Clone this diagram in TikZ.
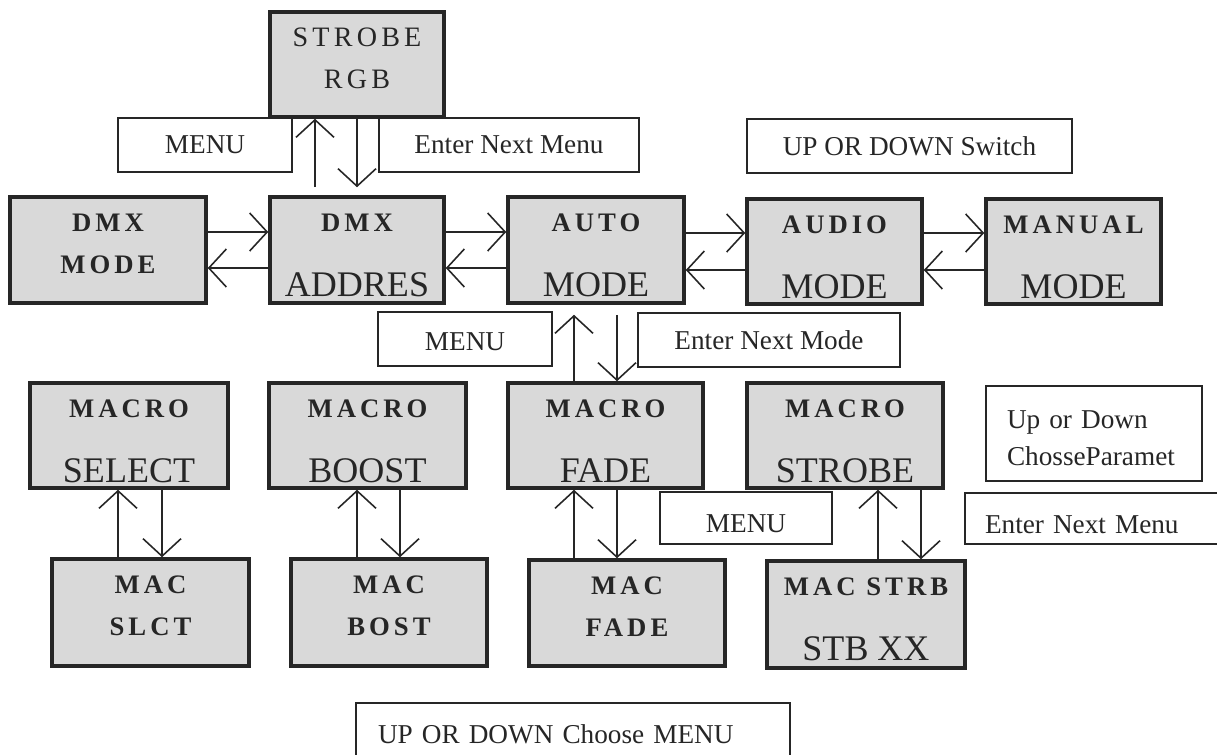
\documentclass[tikz,border=0pt]{standalone}
\usepackage{fontspec}
\setmainfont{Liberation Serif}
\newfontfamily\spacedfam[LetterSpace=15]{Liberation Serif}
\usetikzlibrary{arrows.meta}
\newlength\px
\setlength\px{0.02cm}
\colorlet{ink}{black!85}
\colorlet{cardfill}{black!15}
\newcommand\headfont{\spacedfam\bfseries\fontsize{15.2}{18}\selectfont}
\newcommand\thinhead{\spacedfam\fontsize{16}{19}\selectfont}
\newcommand\bigword{\fontsize{20.5}{24}\selectfont}
% box text: width, height, top line, skip, bottom line
\newcommand\cardtext[5]{%
  \parbox[c][#2\px][t]{#1\px}{\centering\offinterlineskip
    \rule{0pt}{34\px}{#3}\\\rule{0pt}{#4\px}{#5}}}
% pushes a label down in its box
\newcommand\lowstrut[1]{\rule{0pt}{#1\px}}
\tikzset{
  card/.style={
    draw=ink,
    line width=2pt,
    fill=cardfill,
    inner sep=0pt,
    text=ink
  },
  hint/.style={
    draw=ink,
    line width=0.7pt,
    fill=white,
    inner sep=0pt,
    text=ink,
    font=\fontsize{15.5}{21}\selectfont
  },
  arr/.style={
    draw=ink,
    line width=0.9pt,
    -{Straight Barb[length=3.5mm,width=7.6mm]}
  },
}
\begin{document}
\begin{tikzpicture}[x=0.02cm,y=-0.02cm]
\useasboundingbox (0,0) rectangle (1217,754);
\clip (0,0) rectangle (1217,754);
% top
\node[card] (strobergb) at (357,64.5) {\cardtext{174}{105}{\thinhead STROBE}{42}{\thinhead RGB}};
\node[hint, minimum width=174\px, minimum height=54\px] (menua) at (205,145) {MENU};
\node[hint, minimum width=260\px, minimum height=54\px] (nexta) at (509,145) {Enter Next Menu};
\node[hint, minimum width=325\px, minimum height=54\px] (switch) at (909.5,146) {UP OR DOWN Switch};
% mode row
\node[card] (dmxmode) at (108,250) {\cardtext{196}{106}{\headfont DMX}{42}{\headfont MODE}};
\node[card] (dmxaddr) at (357,250) {\cardtext{174}{106}{\headfont DMX}{65}{\bigword ADDRES}};
\node[card] (automode) at (596,250) {\cardtext{176}{106}{\headfont AUTO}{65}{\bigword MODE}};
\node[card] (audiomode) at (834.5,251.5) {\cardtext{175}{105}{\headfont AUDIO}{65}{\bigword MODE}};
\node[card] (manualmode) at (1073.5,251.5) {\cardtext{175}{105}{\headfont MANUAL}{65}{\bigword MODE}};
\node[hint, minimum width=174\px, minimum height=54\px] (menub) at (465,339) {\lowstrut{24}MENU};
\node[hint, minimum width=262\px, minimum height=54\px] (nextmode) at (769,340) {Enter Next Mode};
% macro row
\node[card] (mselect) at (129,435.5) {\cardtext{198}{105}{\headfont MACRO}{65}{\bigword SELECT}};
\node[card] (mboost) at (367.5,435.5) {\cardtext{197}{105}{\headfont MACRO}{65}{\bigword BOOST}};
\node[card] (mfade) at (605.5,435.5) {\cardtext{195}{105}{\headfont MACRO}{65}{\bigword FADE}};
\node[card] (mstrobe) at (845,435.5) {\cardtext{196}{105}{\headfont MACRO}{65}{\bigword STROBE}};
\node[hint, minimum width=216\px, minimum height=95\px, text width=174\px, align=left] (param) at (1094,433.5) {\lowstrut{28}Up or Down\\ChosseParamet};
\node[hint, minimum width=172\px, minimum height=52\px] (menuc) at (746,518) {\lowstrut{30}MENU};
\node[hint, minimum width=265\px, minimum height=51\px, text width=225\px, align=left] (nextc) at (1097.5,518.5) {\lowstrut{30}Enter Next Menu};
% mac row
\node[card] (mslct) at (150.5,612.5) {\cardtext{197}{107}{\headfont MAC}{42}{\headfont SLCT}};
\node[card] (mbost) at (389,612.5) {\cardtext{196}{107}{\headfont MAC}{42}{\headfont BOST}};
\node[card] (mmfade) at (627,613) {\cardtext{196}{106}{\headfont MAC}{42}{\headfont FADE}};
\node[card] (mstrb) at (866,614.5) {\cardtext{198}{107}{\headfont MAC STRB}{65}{\bigword STB XX}};
\node[hint, minimum width=434\px, minimum height=62\px, text width=390\px, align=left] (choose) at (573,734) {UP OR DOWN Choose MENU};
% arrows
\foreach \a/\b/\u/\l in {dmxmode/dmxaddr/232/268, dmxaddr/automode/232/268, automode/audiomode/233/270, audiomode/manualmode/233/270}{
  \draw[arr] (\a.east |- 0,\u) -- (\b.west |- 0,\u);
  \draw[arr] (\b.west |- 0,\l) -- (\a.east |- 0,\l); }
\foreach \a/\b/\u/\d in {mslct/mselect/118/162, mbost/mboost/357/400, mmfade/mfade/574/617, mstrb/mstrobe/878/921}{
  \draw[arr] (\a.north -| \u,0) -- (\b.south -| \u,0);
  \draw[arr] (\b.south -| \d,0) -- (\a.north -| \d,0); }
\draw[arr, shorten <=1.6mm] (dmxaddr.north -| 315,0) -- (strobergb.south -| 315,0);
\draw[arr, shorten >=1.6mm] (strobergb.south -| 357,0) -- (dmxaddr.north -| 357,0);
\draw[arr, shorten >=2mm] (mfade.north -| 574,0) -- (automode.south -| 574,0);
\draw[arr, shorten <=2mm] (automode.south -| 617,0) -- (mfade.north -| 617,0);
\end{tikzpicture}
\end{document}
